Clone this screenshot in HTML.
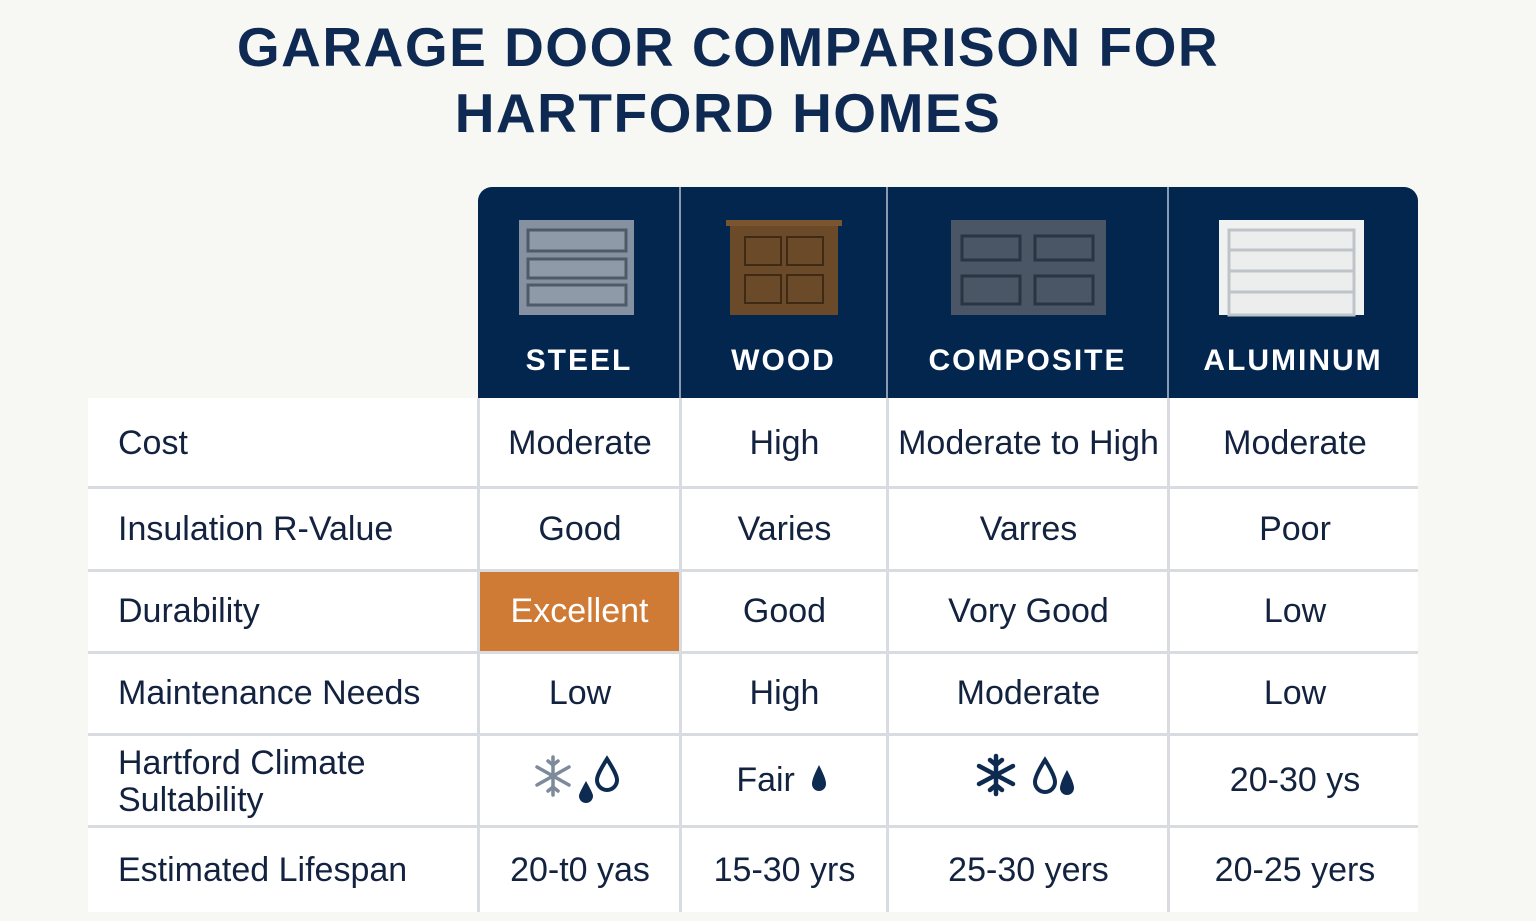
<!DOCTYPE html>
<html><head><meta charset="utf-8"><style>
body{margin:0;width:1536px;height:921px;background:#f7f7f4;position:relative;overflow:hidden;font-family:"Liberation Sans",sans-serif;color:#13233f}
.t{position:absolute;left:0;width:1456px;text-align:center;font-weight:bold;color:#0f2a52;font-size:55px;letter-spacing:1.5px;line-height:66px}
.hd{position:absolute;top:187px;left:478px;width:940px;height:211px;background:#03264f;border-radius:14px 14px 0 0}
.hc{position:absolute;top:187px;height:211px;text-align:center;color:#fff;font-weight:bold;font-size:30px;letter-spacing:2px}
.hc span{position:absolute;left:0;right:0;top:157px}
.vl{position:absolute;width:2px;background:#8a9ab0}
.body{position:absolute;left:88px;top:398px;width:1330px;height:514px;background:#fff}
.hl{position:absolute;left:88px;width:1330px;height:3px;background:#d8dce1}
.vb{position:absolute;top:398px;height:514px;width:3px;background:#d8dce1}
.c{position:absolute;font-size:34px;display:flex;align-items:center;justify-content:center;text-align:center}
.l{justify-content:flex-start;padding-left:30px;line-height:37px;text-align:left}
</style></head><body>
<div class="t" style="top:14px">GARAGE DOOR COMPARISON FOR</div>
<div class="t" style="top:80px">HARTFORD HOMES</div>
<div class="hd"></div>
<div class="vl" style="left:679px;top:187px;height:211px"></div>
<div class="vl" style="left:886px;top:187px;height:211px"></div>
<div class="vl" style="left:1167px;top:187px;height:211px"></div>
<svg style="position:absolute;left:0;top:0" width="1536" height="400">
<rect x="519" y="220" width="115" height="95" fill="#8591a0"/>
<rect x="528" y="230" width="98" height="21" fill="#8e9aa8" stroke="#4e5a68" stroke-width="3"/>
<rect x="528" y="259" width="98" height="19" fill="#8e9aa8" stroke="#4e5a68" stroke-width="3"/>
<rect x="528" y="285" width="98" height="20" fill="#8e9aa8" stroke="#4e5a68" stroke-width="3"/>
<rect x="726" y="220" width="116" height="6" fill="#7a5530"/>
<rect x="730" y="226" width="108" height="89" fill="#6b4a2a"/>
<rect x="745" y="237" width="36" height="28" fill="#6b4a2a" stroke="#3f2a16" stroke-width="2"/>
<rect x="787" y="237" width="36" height="28" fill="#6b4a2a" stroke="#3f2a16" stroke-width="2"/>
<rect x="745" y="275" width="36" height="28" fill="#6b4a2a" stroke="#3f2a16" stroke-width="2"/>
<rect x="787" y="275" width="36" height="28" fill="#6b4a2a" stroke="#3f2a16" stroke-width="2"/>
<rect x="951" y="220" width="155" height="95" fill="#4a5666"/>
<rect x="962" y="236" width="58" height="24" fill="#4a5666" stroke="#2a3442" stroke-width="3"/>
<rect x="1035" y="236" width="58" height="24" fill="#4a5666" stroke="#2a3442" stroke-width="3"/>
<rect x="962" y="276" width="58" height="28" fill="#4a5666" stroke="#2a3442" stroke-width="3"/>
<rect x="1035" y="276" width="58" height="28" fill="#4a5666" stroke="#2a3442" stroke-width="3"/>
<rect x="1219" y="220" width="145" height="95" fill="#f0f2f2"/>
<rect x="1229" y="230" width="125" height="85" fill="#eceeee" stroke="#bfc4c8" stroke-width="3"/>
<line x1="1229" y1="250" x2="1354" y2="250" stroke="#bfc4c8" stroke-width="3"/>
<line x1="1229" y1="271" x2="1354" y2="271" stroke="#bfc4c8" stroke-width="3"/>
<line x1="1229" y1="292" x2="1354" y2="292" stroke="#bfc4c8" stroke-width="3"/>
</svg>
<div class="hc" style="left:478px;width:202px"><span>STEEL</span></div>
<div class="hc" style="left:680px;width:207px"><span>WOOD</span></div>
<div class="hc" style="left:887px;width:281px"><span>COMPOSITE</span></div>
<div class="hc" style="left:1168px;width:250px"><span>ALUMINUM</span></div>
<div class="body"></div>
<div class="c" style="left:480px;top:572px;width:199px;height:79px;background:#cf7a35;color:#fff"></div>
<div class="hl" style="top:486px"></div><div class="hl" style="top:569px"></div><div class="hl" style="top:651px"></div><div class="hl" style="top:733px"></div><div class="hl" style="top:825px"></div>
<div class="vb" style="left:477px"></div><div class="vb" style="left:679px"></div><div class="vb" style="left:886px"></div><div class="vb" style="left:1167px"></div>

<div class="c l" style="left:88px;top:400px;width:360px;height:86px">Cost</div>
<div class="c" style="left:480px;top:400px;width:200px;height:86px">Moderate</div>
<div class="c" style="left:682px;top:400px;width:205px;height:86px">High</div>
<div class="c" style="left:889px;top:400px;width:279px;height:86px">Moderate to High</div>
<div class="c" style="left:1170px;top:400px;width:250px;height:86px">Moderate</div>

<div class="c l" style="left:88px;top:489px;width:360px;height:80px">Insulation R-Value</div>
<div class="c" style="left:480px;top:489px;width:200px;height:80px">Good</div>
<div class="c" style="left:682px;top:489px;width:205px;height:80px">Varies</div>
<div class="c" style="left:889px;top:489px;width:279px;height:80px">Varres</div>
<div class="c" style="left:1170px;top:489px;width:250px;height:80px">Poor</div>

<div class="c l" style="left:88px;top:572px;width:360px;height:79px">Durability</div>
<div class="c" style="left:480px;top:572px;width:199px;height:79px;color:#fff">Excellent</div>
<div class="c" style="left:682px;top:572px;width:205px;height:79px">Good</div>
<div class="c" style="left:889px;top:572px;width:279px;height:79px">Vory Good</div>
<div class="c" style="left:1170px;top:572px;width:250px;height:79px">Low</div>

<div class="c l" style="left:88px;top:654px;width:360px;height:79px">Maintenance Needs</div>
<div class="c" style="left:480px;top:654px;width:200px;height:79px">Low</div>
<div class="c" style="left:682px;top:654px;width:205px;height:79px">High</div>
<div class="c" style="left:889px;top:654px;width:279px;height:79px">Moderate</div>
<div class="c" style="left:1170px;top:654px;width:250px;height:79px">Low</div>

<div class="c l" style="left:88px;top:736px;width:360px;height:89px;display:block;padding-top:9px;box-sizing:border-box">Hartford Climate<br>Sultability</div>
<div class="c" style="left:682px;top:736px;width:205px;height:89px">Fair&nbsp;&nbsp;&nbsp;&nbsp;</div>
<div class="c" style="left:1170px;top:736px;width:250px;height:89px">20-30 ys</div>
<svg style="position:absolute;left:0;top:0" width="1536" height="921">
<g stroke="#7d8a9a" stroke-width="3.5" stroke-linecap="round" fill="none" transform="translate(553,776)">
<line x1="0" y1="-19" x2="0" y2="19"/><line x1="-16" y1="-9" x2="16" y2="9"/><line x1="-16" y1="9" x2="16" y2="-9"/>
<path d="M-5,-15 L0,-11 L5,-15 M-5,15 L0,11 L5,15"/>
</g>
<path d="M586,781 C581,790 579,794 579,796 A7,7 0 0 0 593,796 C593,794 591,790 586,781Z" fill="#0d2a50"/>
<path d="M607,759 C600,770 597,776 597,780 A10,10 0 0 0 617,780 C617,776 614,770 607,759Z" fill="none" stroke="#0d2a50" stroke-width="4"/>
<path d="M819,765 C814,775 812,780 812,784 A7,7 0 0 0 826,784 C826,780 824,775 819,765Z" fill="#0d2a50"/>
<g stroke="#0d2a50" stroke-width="4.5" stroke-linecap="round" fill="none" transform="translate(996,775)">
<line x1="0" y1="-19" x2="0" y2="19"/><line x1="-17" y1="-9" x2="17" y2="9"/><line x1="-17" y1="9" x2="17" y2="-9"/>
<path d="M-6,-15 L0,-10 L6,-15 M-6,15 L0,10 L6,15"/>
</g>
<path d="M1045,760 C1038,771 1035,778 1035,782 A10,10 0 0 0 1055,782 C1055,778 1052,771 1045,760Z" fill="none" stroke="#0d2a50" stroke-width="4"/>
<path d="M1067,770 C1062,779 1060,785 1060,788 A7,7 0 0 0 1074,788 C1074,785 1072,779 1067,770Z" fill="#0d2a50"/>
</svg>

<div class="c l" style="left:88px;top:828px;width:360px;height:84px">Estimated Lifespan</div>
<div class="c" style="left:480px;top:828px;width:200px;height:84px">20-t0 yas</div>
<div class="c" style="left:682px;top:828px;width:205px;height:84px">15-30 yrs</div>
<div class="c" style="left:889px;top:828px;width:279px;height:84px">25-30 yers</div>
<div class="c" style="left:1170px;top:828px;width:250px;height:84px">20-25 yers</div>
</body></html>
